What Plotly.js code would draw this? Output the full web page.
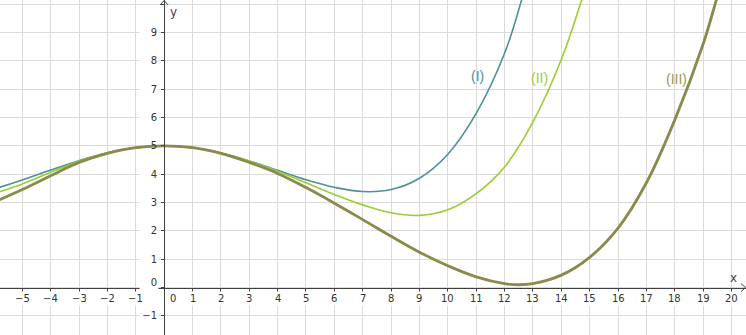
<!DOCTYPE html>
<html>
<head>
<meta charset="utf-8">
<script src="https://cdn.plot.ly/plotly-3.0.1.min.js"></script>
<style>html,body{margin:0;padding:0;background:#fff;}#chart{width:746px;height:335px;}</style>
</head>
<body>
<div id="chart"></div>
<script>
// ---- data ----
const curveI_x  = [-5.8, -5, -4, -3, -2, -1, 0, 1, 2, 3, 4, 5, 6, 7, 8, 9, 10, 11, 12, 12.6, 12.74];
const curveI_y  = [3.54, 3.80, 4.15, 4.48, 4.76, 4.94, 5, 4.94, 4.75, 4.47, 4.14, 3.81, 3.54, 3.39, 3.46, 3.86, 4.71, 6.15, 8.27, 10.15, 10.62];

const curveII_x = [-5.8, -5, -4, -3, -2, -1, 0, 1, 2, 3, 4, 5, 6, 7, 8, 9, 10, 11, 12, 13, 14, 14.7, 14.85];
const curveII_y = [3.38, 3.66, 4.07, 4.47, 4.76, 4.94, 5, 4.94, 4.75, 4.47, 4.11, 3.70, 3.29, 2.92, 2.64, 2.55, 2.75, 3.32, 4.26, 5.85, 8.05, 10.1, 10.55];

const curveIII_x = [-5.8, -5, -4, -3, -2, -1, 0, 1, 2, 3, 4, 5, 6, 7, 8, 9, 10, 11, 12, 12.5, 13, 14, 15, 16, 17, 18, 19, 19.45, 19.6];
const curveIII_y = [3.10, 3.46, 3.95, 4.42, 4.74, 4.94, 5, 4.94, 4.74, 4.42, 4.03, 3.53, 2.98, 2.40, 1.81, 1.25, 0.77, 0.38, 0.14, 0.10, 0.14, 0.44, 1.07, 2.10, 3.70, 5.92, 8.60, 10.1, 10.6];

const curveNames = ["(I)", "(II)", "(III)"];
const labelX = [11.06, 13.22, 18.06];
const labelY = [7.47, 7.40, 7.36];

const xTickVals = [-5,-4,-3,-2,-1,0,1,2,3,4,5,6,7,8,9,10,11,12,13,14,15,16,17,18,19,20];
const yTickVals = [-1,0,1,2,3,4,5,6,7,8,9];
const axisNames = ["x", "y"];

// ---- styling ----
const xRange = [-5.786, 20.51];
const yRange = [-1.673, 10.152];
const colors = ["#4d8f9b", "#9acd32", "#8a8a4c"];
const labelColors = ["#4d8f9b", "#9acd32", "#999955"];
const widths = [1.6, 1.6, 2.8];
const axisCol = "#404040";
const tickFont = {family: "DejaVu Sans, sans-serif", size: 10, color: "#333"};
const minus = s => String(s).replace("-", "\u2212");

const xs = [curveI_x, curveII_x, curveIII_x];
const ys = [curveI_y, curveII_y, curveIII_y];
const traces = xs.map((x, i) => ({
  x: x, y: ys[i], type: "scatter", mode: "lines",
  line: {color: colors[i], width: widths[i], shape: "spline", smoothing: 1.1},
  hoverinfo: "skip", name: curveNames[i]
}));

const annotations = [];
xTickVals.forEach(v => {
  annotations.push({
    x: v, y: 0, xref: "x", yref: "y", text: minus(v), showarrow: false,
    xanchor: v === 0 ? "left" : "center", yanchor: "top",
    xshift: v === 0 ? 4 : 0, yshift: -3,
    font: tickFont, bgcolor: "#ffffff", borderpad: 1
  });
});
yTickVals.forEach(v => {
  annotations.push({
    x: 0, y: v, xref: "x", yref: "y", text: minus(v), showarrow: false,
    xanchor: "right", yanchor: "middle", xshift: -5, yshift: v === 0 ? 5 : 0,
    font: tickFont, bgcolor: v === 5 ? "rgba(0,0,0,0)" : "#ffffff",
    width: 16, align: "right", borderpad: 1
  });
});
curveNames.forEach((n, i) => {
  annotations.push({
    x: labelX[i], y: labelY[i], xref: "x", yref: "y", text: n, showarrow: false,
    xanchor: "center", yanchor: "middle",
    font: {family: "Liberation Sans, Arial, sans-serif", size: 14, color: labelColors[i]}
  });
});
annotations.push({x: xRange[1], y: 0, xref: "x", yref: "y", text: axisNames[0], showarrow: false,
  xanchor: "right", yanchor: "bottom", xshift: -7, yshift: 1,
  font: {family: "DejaVu Sans, sans-serif", size: 12, color: "#444"}});
annotations.push({x: 0, y: yRange[1], xref: "x", yref: "y", text: axisNames[1], showarrow: false,
  xanchor: "left", yanchor: "top", xshift: 4, yshift: -3,
  font: {family: "DejaVu Sans, sans-serif", size: 12, color: "#444"}});

const shapes = [
  {type: "path", xref: "x", yref: "y", xsizemode: "pixel", ysizemode: "pixel",
   xanchor: xRange[1], yanchor: 0, path: "M -5 4 L -0.5 0 L -5 -4",
   line: {color: axisCol, width: 1}},
  {type: "path", xref: "x", yref: "y", xsizemode: "pixel", ysizemode: "pixel",
   xanchor: 0, yanchor: yRange[1], path: "M -4 -5 L 0 -0.5 L 4 -5",
   line: {color: axisCol, width: 1}}
];

const layout = {
  width: 746, height: 335,
  margin: {l: 0, r: 0, t: 0, b: 0, pad: 0},
  paper_bgcolor: "#ffffff", plot_bgcolor: "#ffffff",
  showlegend: false,
  xaxis: {
    range: xRange, tick0: 0, dtick: 1, showgrid: true, gridcolor: "#dadada", gridwidth: 1,
    zeroline: false, showline: true, linecolor: axisCol, linewidth: 1,
    anchor: "free", position: (0 - yRange[0]) / (yRange[1] - yRange[0]),
    ticks: "outside", ticklen: 3, tickcolor: axisCol, showticklabels: false, fixedrange: true
  },
  yaxis: {
    range: yRange, tick0: 0, dtick: 1, showgrid: true, gridcolor: "#dadada", gridwidth: 1,
    zeroline: false, showline: true, linecolor: axisCol, linewidth: 1,
    anchor: "free", position: (0 - xRange[0]) / (xRange[1] - xRange[0]),
    ticks: "outside", ticklen: 3, tickcolor: axisCol, showticklabels: false, fixedrange: true
  },
  annotations: annotations,
  shapes: shapes
};

Plotly.newPlot("chart", traces, layout, {displayModeBar: false, staticPlot: true});
</script>
</body>
</html>
